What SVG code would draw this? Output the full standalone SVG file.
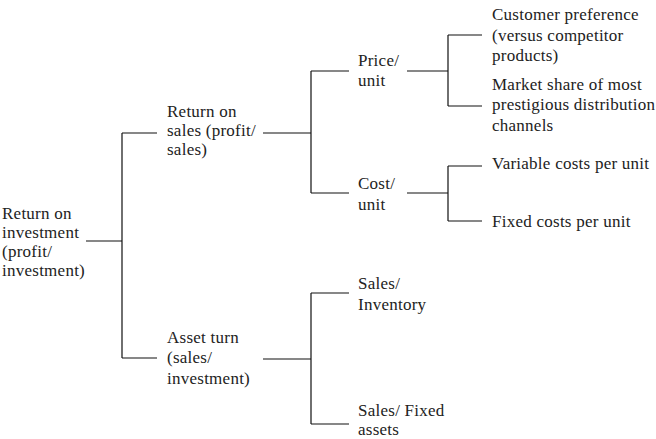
<svg xmlns="http://www.w3.org/2000/svg" width="656" height="439" viewBox="0 0 656 439">
<style>
text{font-family:"Liberation Serif","Times New Roman",serif;font-size:17px;letter-spacing:0.25px;fill:#222}
.c{fill:none;stroke:#111;stroke-width:1.2}
</style>
<rect width="656" height="439" fill="#fff"/>
<g id="connectors">
<path class="c" d="M86 241H122M122 133V358M122 133H157M122 358H157"/>
<path class="c" d="M263 133H311M311 71V193M311 71H349M311 193H349"/>
<path class="c" d="M407 71H448M448 35V106M448 35H482M448 106H482"/>
<path class="c" d="M407 193H448M448 166V221M448 166H482M448 221H482"/>
<path class="c" d="M263 359H311M311 293V424M311 293H349M311 424H349"/>
</g>
<g id="roi"><text x="2" y="219">Return on</text><text x="2" y="238">investment</text><text x="2" y="257">(profit/</text><text x="2" y="276">investment)</text></g>
<g id="ros"><text x="167" y="117">Return on</text><text x="167" y="136">sales (profit/</text><text x="167" y="155">sales)</text></g>
<g id="asset"><text x="167" y="343">Asset turn</text><text x="167" y="363">(sales/</text><text x="167" y="384">investment)</text></g>
<g id="price"><text x="358" y="66">Price/</text><text x="358" y="86">unit</text></g>
<g id="cost"><text x="358" y="189">Cost/</text><text x="358" y="210">unit</text></g>
<g id="inv"><text x="358" y="289">Sales/</text><text x="358" y="310">Inventory</text></g>
<g id="fixed"><text x="358" y="416">Sales/ Fixed</text><text x="358" y="435">assets</text></g>
<g id="cust"><text x="492" y="20">Customer preference</text><text x="492" y="41">(versus competitor</text><text x="492" y="61">products)</text></g>
<g id="market"><text x="492" y="90">Market share of most</text><text x="492" y="110">prestigious distribution</text><text x="492" y="131">channels</text></g>
<g id="var"><text x="492" y="169">Variable costs per unit</text></g>
<g id="fix"><text x="492" y="227">Fixed costs per unit</text></g>
</svg>
